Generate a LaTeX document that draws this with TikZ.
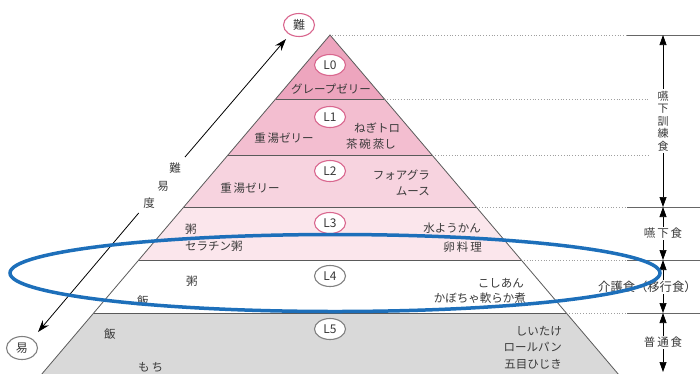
\documentclass[tikz,border=0pt]{standalone}
\usepackage{fontspec}
\setmainfont{Noto Sans CJK JP}
\usetikzlibrary{shapes.geometric,arrows.meta}
\definecolor{pkA}{HTML}{EDA5BE}
\definecolor{pkB}{HTML}{F3BED0}
\definecolor{pkC}{HTML}{F7D3DF}
\definecolor{pkD}{HTML}{FBE6EC}
\definecolor{grL}{HTML}{D9D9D9}
\definecolor{edgeC}{HTML}{5A5A5A}
\definecolor{txtC}{HTML}{3A3A3A}
\definecolor{pkLine}{HTML}{D9668E}
\definecolor{blueC}{HTML}{1D6FBA}
\newcommand{\jpf}{\fontsize{11.5}{14}\selectfont}
\begin{document}
\begin{tikzpicture}[x=1pt,y=-1pt,
  lvl/.style={ellipse, draw=#1, fill=white, line width=1.1pt, minimum width=31pt, minimum height=21pt, inner sep=0pt, font=\fontsize{12}{12}\selectfont, text=txtC},
  lbl/.style={font=\jpf, text=txtC, inner sep=0pt},
  bnd/.style={draw=edgeC, line width=0.8pt},
  dotl/.style={draw=gray!75, dotted, line width=0.8pt},
  solr/.style={draw=gray!80!black, line width=0.8pt},
  varr/.style={draw=black, line width=0.7pt, {Triangle[width=7pt,length=10pt]}-{Triangle[width=7pt,length=10pt]}},
  larr/.style={draw=black, line width=0.8pt, -{Stealth[width=8pt,length=12pt]}},
  rtag/.style={lbl, fill=white, inner sep=1.5pt}
]
\useasboundingbox (0,0) rectangle (700,373);
\begin{scope}
\clip (0,0) rectangle (700,373);
% layers
\fill[pkA] (330,35) -- (384.4,99) -- (275.6,99) -- cycle;
\fill[pkB] (275.6,99) -- (384.4,99) -- (432,155) -- (228,155) -- cycle;
\fill[pkC] (228,155) -- (432,155) -- (476.2,207) -- (183.8,207) -- cycle;
\fill[pkD] (183.8,207) -- (476.2,207) -- (521.25,260) -- (138.75,260) -- cycle;
\fill[white] (138.75,260) -- (521.25,260) -- (566.3,313) -- (93.7,313) -- cycle;
\fill[grL] (93.7,313) -- (566.3,313) -- (623.25,380) -- (36.75,380) -- cycle;
% boundaries
\draw[bnd] (275.6,99) -- (384.4,99);
\draw[bnd] (228,155) -- (432,155);
\draw[bnd] (183.8,207) -- (476.2,207);
\draw[bnd] (138.75,260) -- (521.25,260);
\draw[bnd] (93.7,313) -- (566.3,313);
\draw[bnd] (36.75,380) -- (330,35) -- (623.25,380);
% right guide lines
\draw[dotl] (332,35) -- (627,35);
\draw[dotl] (387,99) -- (650,99);
\draw[dotl] (435,155) -- (650,155);
\draw[dotl] (479,207) -- (627,207);
\draw[dotl] (524,260) -- (627,260);
\draw[dotl] (569,313) -- (627,313);
\draw[solr] (627,35) -- (700,35);
\draw[solr] (627,207) -- (700,207);
\draw[solr] (627,260) -- (700,260);
\draw[solr] (627,313) -- (700,313);
% level circles
\node[lvl=pkLine] (l0) at (330,65) {L0};
\node[lvl=pkLine] (l1) at (330,117) {L1};
\node[lvl=pkLine] (l2) at (330,171) {L2};
\node[lvl=pkLine] (l3) at (330,223) {L3};
\node[lvl=gray] (l4) at (330,276) {L4};
\node[lvl=gray] (l5) at (330,329) {L5};
\node[lvl=pkLine, minimum height=23pt] (hard) at (299,25) {難};
\node[lvl=gray, minimum height=23pt] (easy) at (22,348) {易};
% texts
\node[lbl] (t0) at (331,89) {グレープゼリー};
\node[lbl] (t1a) at (284,138) {重\,湯ゼリー};
\node[lbl] (t1b) at (377,128) {ねぎトロ};
\node[lbl] (t1c) at (371,144) {茶\,碗\,蒸し};
\node[lbl] (t2a) at (250,188) {重\,湯ゼリー};
\node[lbl, anchor=east] (t2b) at (430,175) {フォアグラ};
\node[lbl, anchor=east] (t2c) at (430,191) {ムース};
\node[lbl, anchor=west] (t3a) at (185,229) {粥};
\node[lbl, anchor=west] (t3b) at (185,246) {セラチン粥};
\node[lbl, anchor=east] (t3c) at (481,228) {水ようかん};
\node[lbl, anchor=east] (t3d) at (482,247) {卵\,料\,理};
\node[lbl, anchor=west] (t4a) at (186,281) {粥};
\node[lbl, anchor=west] (t4b) at (137,301) {飯};
\node[lbl, anchor=east] (t4c) at (524,283) {こしあん};
\node[lbl, anchor=east] (t4d) at (526,298) {かぼちゃ軟らか煮};
\node[lbl, anchor=west] (t5a) at (104,334) {飯};
\node[lbl, anchor=west] (t5b) at (138,367) {も\,ち};
\node[lbl, anchor=east] (t5c) at (562,331) {しいたけ};
\node[lbl, anchor=east] (t5d) at (562,347) {ロールパン};
\node[lbl, anchor=east] (t5e) at (562,364) {五目ひじき};
% difficulty axis
\coordinate (ea) at (38,332);
\coordinate (eb) at (138.7,213);
\coordinate (ha) at (185,157);
\coordinate (hb) at (286,39);
\draw[larr] (eb) -- (ea);
\draw[larr] (ha) -- (hb);
\node[lbl] (d1) at (175,168) {難};
\node[lbl] (d2) at (163,186) {易};
\node[lbl] (d3) at (149,203) {度};
% right arrows
\coordinate (r0) at (663,35);
\coordinate (r1) at (663,207);
\coordinate (r2) at (663,260);
\coordinate (r3) at (663,313);
\coordinate (r4) at (663,372);
\draw[varr] (r0) -- (r1) node[midway, rtag, align=center, font=\fontsize{11}{12.5}\selectfont] (c1) {嚥\\下\\訓\\練\\食};
\draw[varr] (r1) -- (r2) node[midway, rtag] (c2) {嚥\,下\,食};
\draw[varr] (r2) -- (r3);
\node[lbl, fill=white, inner sep=1pt, anchor=west, font=\fontsize{12.3}{14}\selectfont] (c3) at (597,287) {介護食（移行食）};
\draw[varr] (r3) -- (r4) node[midway, rtag] (c4) {普\,通\,食};
% blue oval
\node[ellipse, draw=blueC, line width=3.5pt, minimum width=650pt, minimum height=77pt, inner sep=0pt] (oval) at (335,273) {};
\end{scope}
\end{tikzpicture}
\end{document}
